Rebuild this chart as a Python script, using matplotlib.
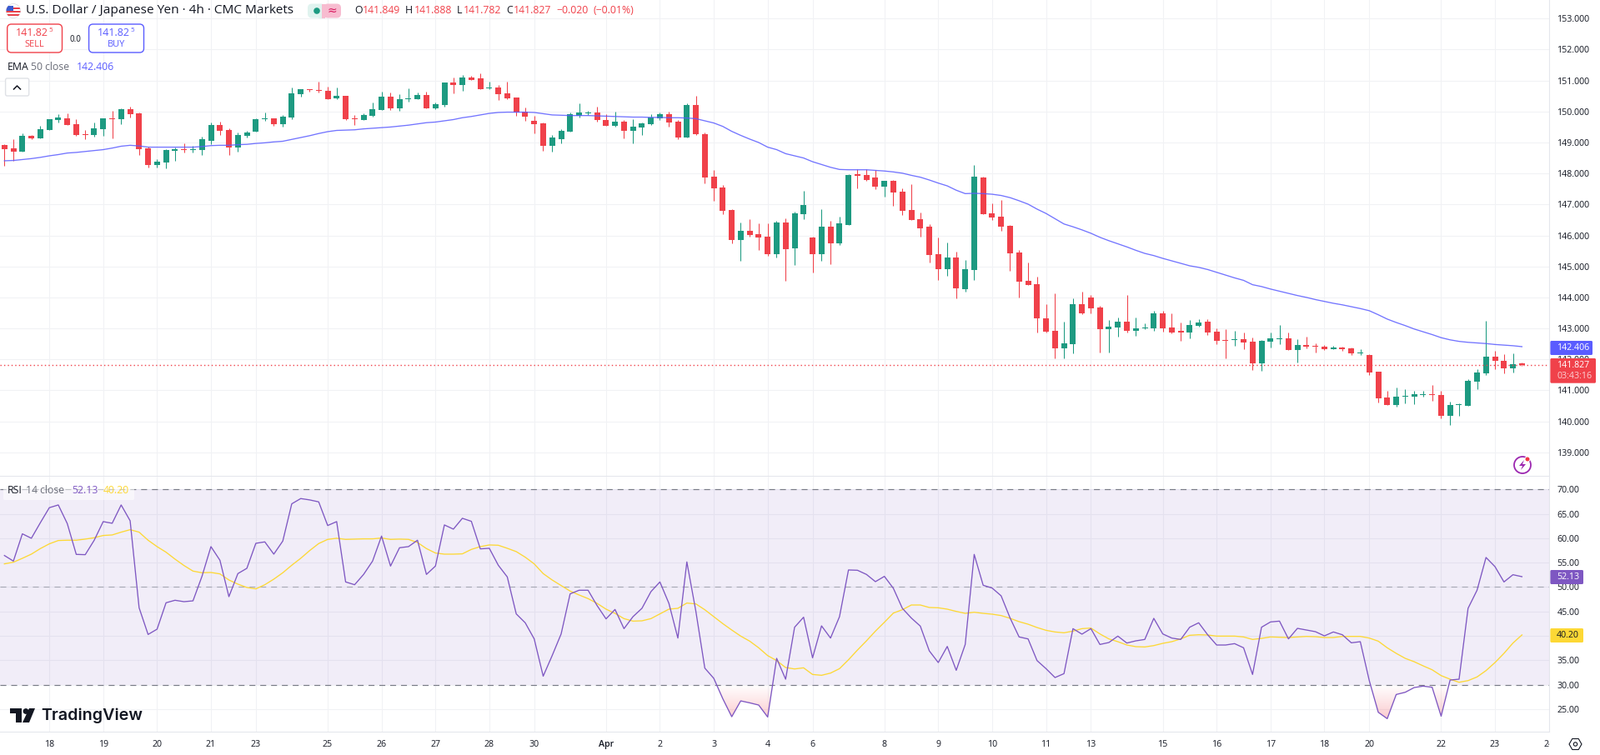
import numpy as np
import matplotlib
matplotlib.use("Agg")
import matplotlib.pyplot as plt
from matplotlib.patches import FancyBboxPatch, Rectangle, Circle, Polygon
from matplotlib.path import Path
from matplotlib.transforms import Bbox

plt.rcParams["font.family"] = ["Open Sans", "DejaVu Sans"]

opens = [148.92,148.81,148.70,149.21,149.13,149.40,149.72,149.78,149.59,149.27,149.24,149.43,149.78,149.75,150.07,149.94,148.81,148.27,148.35,148.73,
148.78,148.76,148.76,149.05,149.56,149.40,148.84,149.21,149.35,149.75,149.78,149.59,149.80,150.56,150.72,150.69,150.66,150.42,150.50,149.78,
149.72,149.86,150.05,150.48,150.10,150.40,150.40,150.53,150.10,150.21,150.93,150.85,151.09,151.07,150.75,150.77,150.58,150.45,149.99,149.70,
149.62,148.89,149.11,149.35,149.86,149.94,149.97,149.72,149.54,149.67,149.37,149.48,149.59,149.78,149.91,149.67,149.16,150.21,149.27,147.90,
147.55,146.82,145.85,146.15,146.04,145.96,145.40,146.42,145.58,146.69,145.93,145.40,146.28,145.75,146.34,147.98,147.95,147.87,147.58,147.77,
147.41,146.82,146.53,146.29,145.40,144.91,145.29,144.27,144.89,147.87,146.71,146.61,146.31,145.45,144.54,144.43,143.32,142.92,142.36,142.49,
143.78,144.00,143.67,142.98,143.03,143.22,142.92,143.00,143.00,143.49,143.03,142.91,142.86,143.07,143.21,142.89,142.62,142.62,142.64,142.56,
141.87,142.56,142.64,142.67,142.30,142.46,142.43,142.40,142.32,142.38,142.35,142.19,142.14,141.60,140.77,140.53,140.80,140.80,140.85,140.88,
140.85,140.18,140.52,140.50,141.28,141.55,142.08,141.95,141.71,141.85]
highs = [148.94,149.11,149.29,149.23,149.54,149.75,149.91,149.94,149.75,149.40,149.64,149.78,150.02,150.10,150.15,149.97,148.86,148.46,148.78,148.84,
148.97,148.89,149.19,149.64,149.67,149.46,149.32,149.37,149.78,149.97,149.78,149.89,150.77,150.72,150.72,150.96,150.80,150.77,150.50,149.89,
149.94,150.29,150.64,150.61,150.56,150.75,150.61,150.64,150.29,150.93,151.09,151.18,151.15,151.23,150.96,150.85,150.96,150.45,150.13,149.86,
149.64,149.24,149.43,149.97,150.26,150.02,150.15,149.91,149.99,149.72,149.75,149.64,149.91,149.97,149.99,149.72,150.26,150.50,149.32,148.11,
147.63,146.85,146.42,146.53,146.39,146.39,146.47,146.55,146.77,147.44,145.96,146.85,146.47,146.61,147.98,148.14,148.14,148.12,147.77,147.79,
147.52,147.66,146.74,146.37,145.94,145.77,145.48,145.21,148.28,147.90,147.04,147.15,146.34,145.53,145.13,144.67,143.78,144.13,143.22,143.97,
144.19,144.08,143.73,143.27,143.35,144.08,143.35,143.16,143.57,143.57,143.49,143.18,143.26,143.29,143.29,142.99,142.97,142.91,142.86,142.70,
142.62,142.86,143.10,142.86,142.64,142.72,142.51,142.46,142.43,142.40,142.38,142.32,142.16,141.60,140.99,141.09,141.04,140.99,140.99,141.17,
140.99,140.64,140.58,141.36,141.68,143.23,142.27,142.16,142.19,141.90]
lows = [148.25,148.41,148.70,149.11,149.13,149.40,149.64,149.56,149.21,149.11,149.19,149.21,149.13,149.59,149.80,148.60,148.19,148.19,148.16,148.41,
148.68,148.68,148.60,148.94,149.24,148.60,148.70,149.16,149.35,149.70,149.54,149.51,149.75,150.48,150.64,150.61,150.40,150.40,149.72,149.56,
149.72,149.83,150.05,150.05,150.02,150.32,150.40,150.10,150.07,150.15,150.58,150.66,151.01,150.72,150.72,150.37,150.40,149.86,149.70,149.29,
148.73,148.70,148.97,149.35,149.80,149.89,149.67,149.54,149.51,149.13,148.97,149.24,149.56,149.72,149.51,149.11,149.16,149.24,147.68,147.12,
146.69,145.75,145.18,145.96,145.53,145.34,145.29,144.54,145.05,146.53,144.80,145.18,145.07,145.69,146.34,147.52,147.77,147.50,147.25,146.96,
146.66,146.50,145.96,145.13,144.56,144.70,143.97,144.19,144.56,146.69,146.50,146.15,144.86,144.00,144.40,142.87,142.87,142.03,142.03,142.20,
143.46,143.49,142.22,142.22,142.73,142.87,142.76,142.98,142.92,142.89,142.84,142.59,142.67,143.05,142.78,142.48,142.03,142.43,142.32,141.65,
141.63,142.38,142.48,142.30,141.90,142.35,142.22,142.30,142.32,142.27,142.14,142.14,141.49,140.61,140.53,140.48,140.58,140.56,140.80,140.66,
140.10,139.89,140.18,140.50,141.04,141.49,141.68,141.55,141.57,141.78]
closes = [148.78,148.70,149.21,149.13,149.43,149.75,149.80,149.56,149.24,149.24,149.46,149.78,149.76,150.07,149.91,148.78,148.27,148.38,148.76,148.78,
148.76,148.78,149.11,149.56,149.37,148.84,149.24,149.32,149.75,149.78,149.59,149.83,150.58,150.72,150.69,150.66,150.40,150.50,149.75,149.75,
149.89,150.07,150.48,150.10,150.40,150.42,150.53,150.10,150.23,150.93,150.85,151.09,151.01,150.72,150.77,150.56,150.42,149.97,149.83,149.59,
148.89,149.16,149.37,149.91,149.97,149.97,149.72,149.54,149.67,149.37,149.51,149.62,149.80,149.91,149.64,149.16,150.21,149.27,147.87,147.52,
146.79,145.85,146.15,146.01,145.93,145.40,146.42,145.56,146.71,146.98,145.40,146.28,145.75,146.39,147.95,147.93,147.79,147.58,147.77,147.39,
146.80,146.50,146.23,145.37,144.91,145.29,144.29,144.91,147.90,146.69,146.58,146.29,145.42,144.51,144.40,143.32,142.89,142.36,142.52,143.78,
143.49,143.65,142.98,143.06,143.22,142.92,143.00,143.03,143.49,143.00,142.87,142.86,143.10,143.18,142.86,142.59,142.59,142.64,142.54,141.87,
142.59,142.67,142.67,142.30,142.46,142.40,142.40,142.32,142.38,142.32,142.19,142.22,141.57,140.74,140.53,140.80,140.82,140.88,140.88,140.85,
140.18,140.53,140.55,141.31,141.57,142.08,141.95,141.71,141.84,141.83]
ema50 = [148.41,148.42,148.45,148.48,148.52,148.57,148.61,148.66,148.68,148.71,148.74,148.77,148.82,148.88,148.91,148.89,148.85,148.85,148.85,148.85,
148.85,148.85,148.87,148.90,148.91,148.91,148.93,148.94,148.97,148.99,149.02,149.04,149.10,149.16,149.22,149.29,149.35,149.39,149.40,149.41,
149.44,149.46,149.48,149.50,149.53,149.56,149.60,149.64,149.66,149.70,149.74,149.80,149.84,149.89,149.94,149.97,149.98,149.98,149.98,149.97,
149.93,149.89,149.88,149.87,149.87,149.87,149.86,149.85,149.84,149.83,149.82,149.82,149.81,149.81,149.80,149.80,149.79,149.77,149.70,149.63,
149.52,149.36,149.23,149.11,149.00,148.85,148.77,148.64,148.57,148.50,148.38,148.29,148.20,148.13,148.12,148.12,148.12,148.10,148.08,148.05,
148.01,147.94,147.88,147.79,147.69,147.60,147.46,147.35,147.36,147.35,147.33,147.29,147.22,147.12,147.01,146.85,146.71,146.54,146.37,146.28,
146.18,146.07,145.94,145.83,145.73,145.63,145.52,145.42,145.35,145.26,145.18,145.10,145.02,144.97,144.90,144.81,144.72,144.63,144.55,144.41,
144.35,144.27,144.20,144.13,144.06,144.00,143.93,143.87,143.81,143.76,143.70,143.64,143.57,143.44,143.30,143.19,143.09,142.98,142.89,142.80,
142.70,142.63,142.58,142.55,142.53,142.51,142.48,142.46,142.44,142.41]
rsi14 = [56.46,55.32,60.90,59.99,63.17,66.25,66.81,63.00,56.69,56.63,59.59,63.40,63.06,66.81,63.57,45.76,40.30,41.38,46.79,47.30,
47.01,47.18,52.19,58.28,55.49,48.04,52.76,53.84,58.96,59.25,56.74,59.42,67.04,68.12,67.84,67.44,62.60,63.40,51.05,50.48,
52.59,55.32,60.44,54.30,58.05,58.28,59.59,52.59,54.30,62.72,61.86,64.08,63.46,57.82,57.94,54.47,52.08,44.51,42.69,39.39,
31.76,35.97,40.41,48.61,49.35,49.35,46.22,43.49,45.42,41.49,43.94,45.65,49.06,51.05,46.67,39.56,55.15,45.08,33.41,31.31,
27.16,23.46,26.70,26.30,25.85,23.40,35.41,31.14,41.78,43.83,35.52,42.06,39.56,43.94,53.50,53.44,52.59,51.11,52.19,49.74,
45.65,43.66,42.01,36.94,34.55,37.85,32.96,38.25,56.69,50.37,49.80,48.21,43.66,39.79,39.39,34.95,33.30,31.48,32.28,41.49,
40.36,41.49,38.25,38.65,39.96,38.54,38.99,39.28,43.60,40.41,39.56,39.28,41.78,42.69,40.24,38.14,38.14,38.42,37.57,32.11,
41.78,42.86,43.03,39.39,41.55,41.21,40.87,40.01,40.81,40.24,38.59,38.82,30.85,24.37,23.06,28.01,28.46,29.43,29.72,29.49,
23.57,30.97,31.14,45.65,49.35,56.06,54.18,51.05,52.53,52.13]
rsi_ma = [54.75,55.09,55.89,56.74,57.88,58.85,59.53,59.59,59.59,59.82,60.10,60.56,60.67,61.24,61.75,61.24,59.59,58.28,57.14,55.72,
54.41,53.27,52.93,52.99,52.70,51.45,50.60,49.92,49.63,50.48,51.62,52.93,54.47,55.89,57.48,58.91,59.76,59.99,59.76,59.82,
59.87,59.87,60.04,59.76,59.82,59.76,59.13,57.88,56.97,56.74,56.74,56.80,57.71,58.28,58.62,58.56,57.94,57.26,56.12,54.75,
52.76,51.45,50.31,49.18,48.38,47.64,46.67,45.48,44.62,43.54,43.03,43.09,43.54,44.51,45.48,45.65,46.73,46.56,45.36,43.94,
42.52,41.21,39.96,38.93,37.57,35.97,34.95,33.53,33.24,33.47,32.11,31.94,32.39,33.30,35.12,37.11,38.99,40.98,42.80,44.68,
45.36,46.33,46.33,45.82,45.76,45.48,45.02,44.62,44.85,44.62,44.45,44.17,43.60,42.92,42.40,41.72,41.15,40.81,40.64,40.98,
41.49,41.61,40.41,39.39,38.82,38.14,37.80,37.74,38.02,38.48,38.82,39.39,40.13,40.24,40.19,39.96,39.96,39.96,39.79,39.28,
39.50,39.79,39.73,39.67,39.79,39.90,39.84,39.67,39.67,39.90,39.90,39.90,39.56,38.93,37.57,36.43,35.41,34.72,33.87,33.07,
31.88,31.14,30.51,30.85,31.60,32.90,34.55,36.43,38.54,40.20]
date_ticks = [5,11,17,23,28,36,42,48,54,59,67,73,79,85,90,98,104,110,116,121,129,135,141,147,152,160,166,172]
date_labels = ["18","19","20","21","23","25","26","27","28","30","Apr","2","3","4","6","8","9","10","11","13","15","16","17","18","20","22","23","24"]
price_ticks = list(range(139, 154))
rsi_ticks = [25,30,35,40,45,50,55,60,65,70]
last_price = 141.827
last_ema = 142.406
last_rsi = 52.13
last_ma = 40.20

GREEN, RED, BLUE, PURPLE, YELLOW = "#1d9a81", "#f0414a", "#5a5cff", "#7E57C2", "#FDD835"
GRID, DARK, GRAY, BORDER = "#f1f2f5", "#131722", "#6a6d78", "#e4e6ec"
AX = 7.7
W, H = 1919, 906
PANE_R = 1858
fig = plt.figure(figsize=(W/100, H/100), dpi=100, facecolor="white")
ax = fig.add_axes([0, 1-571/H, PANE_R/W, 571/H])
rx = fig.add_axes([0, 1-878/H, PANE_R/W, (878-572)/H])
o, h, l, c = map(np.array, (opens, highs, lows, closes))
x = np.arange(len(o))
cols = [GREEN if cc >= oo else RED for oo, cc in zip(o, c)]

ax.vlines(x, l, h, colors=cols, linewidth=0.75, zorder=3)
ax.bar(x, np.maximum(np.abs(c-o), 0.03), bottom=np.minimum(o, c), width=0.65, color=cols, linewidth=0, zorder=4)
ax.plot(x, ema50, color=BLUE, lw=0.95, alpha=0.85, zorder=5)
ax.axhline(last_price, color=RED, lw=1.0, ls=(0, (1, 2.2)), zorder=6)
ax.set_ylim(138.24, 153.6)
ax.set_yticks(price_ticks)
ax.set_yticklabels([f"{v:.3f}" for v in price_ticks])

rx.axhspan(30, 70, color=PURPLE, alpha=0.105, lw=0, zorder=1)
for lv, al in ((70, 1), (50, 0.55), (30, 1)):
    rx.axhline(lv, color="#787b86", lw=0.85, alpha=al, ls=(0, (6, 5)), zorder=2)
ra = np.array(rsi14)
poly = rx.fill_between(x, ra, 30, where=ra < 30, interpolate=True, facecolor="none", linewidth=0)
clip = Path.make_compound_path(*poly.get_paths())
grad = np.zeros((64, 2, 4))
grad[..., :3] = matplotlib.colors.to_rgb("#f23645")
grad[..., 3] = np.linspace(0, 0.26, 64)[:, None]
img = rx.imshow(grad, extent=(x[0], x[-1], 23, 30), aspect="auto", zorder=2, interpolation="bilinear")
img.set_clip_path(clip, rx.transData)
rx.plot(x, ra, color=PURPLE, lw=0.95, zorder=4)
rx.plot(x, rsi_ma, color=YELLOW, lw=0.95, zorder=3)
rx.set_ylim(20.4, 72.6)
rx.set_yticks(rsi_ticks)
rx.set_yticklabels([f"{v:.2f}" for v in rsi_ticks])

for a in (ax, rx):
    a.set_xlim(-0.492, 172.03)
    a.set_xticks(date_ticks)
    a.yaxis.tick_right()
    a.grid(True, color=GRID, lw=0.75, zorder=0)
    a.set_axisbelow(True)
    a.tick_params(axis="y", length=0, pad=6.8, labelsize=AX, labelcolor=DARK)
    a.tick_params(axis="x", length=0)
    for s in ("top", "left"):
        a.spines[s].set_visible(False)
    for s in ("right", "bottom"):
        a.spines[s].set_color(BORDER)
        a.spines[s].set_linewidth(0.75)
ax.tick_params(axis="x", labelbottom=False)
rx.set_xticklabels(date_labels, fontsize=AX, color=DARK)
rx.tick_params(axis="x", pad=7.5)
rx.get_xticklabels()[date_labels.index("Apr")].set_fontweight("semibold")
lab24 = rx.get_xticklabels()[-1]
lab24.set_clip_on(True)
lab24.set_clip_box(Bbox.from_extents(0, 0, PANE_R, H))

# overlay in pixel space for header, legends and price tags
ov = fig.add_axes([0, 0, 1, 1], facecolor="none", zorder=10)
ov.set_xlim(0, W); ov.set_ylim(H, 0); ov.axis("off")

def T(px, py, s, color=DARK, size=AX, ha="left", va="center", **kw):
    return ov.text(px, py, s, color=color, fontsize=size, ha=ha, va=va, **kw)

def box(x0, y0, x1, y1, fc="white", ec="none", lw=1, r=3, alpha=None, z=1):
    p = FancyBboxPatch((x0+r, y0+r), x1-x0-2*r, y1-y0-2*r, boxstyle=f"round,pad={r}", fc=fc, ec=ec, lw=lw, alpha=alpha, zorder=z)
    ov.add_patch(p)

# header
flag = Circle((16, 13), 8.5, fc="white", ec="#d9d9de", lw=0.5)
ov.add_patch(flag)
for yy in (9.5, 13.5, 17.5):
    ov.add_patch(Rectangle((7, yy-1), 18, 2, fc="#e8414a", lw=0, clip_path=flag))
ov.add_patch(Rectangle((7, 7), 9, 6, fc="#3a5bd0", lw=0, clip_path=flag))
T(31, 13, "U.S. Dollar / Japanese Yen · 4h · CMC Markets", size=11.1)
box(369, 4.5, 390, 21.5, fc="#e0f3ef", r=5)
box(388, 4.5, 409, 21.5, fc="#f7bcd0", r=5)
ov.add_patch(Rectangle((386, 4.5), 4, 17, fc="#f7bcd0", lw=0))
ov.add_patch(Rectangle((382, 4.5), 4, 17, fc="#e0f3ef", lw=0))
ov.add_patch(Circle((380, 13), 3.8, fc=GREEN, lw=0))
T(398, 13, "≈", color="#d81b60", size=10, ha="center", family="DejaVu Sans")
hd = [(425,"O",DARK),(435,"141.849",RED),(486,"H",DARK),(496.5,"141.888",RED),(547.5,"L",DARK),(556,"141.782",RED),
      (607,"C",DARK),(616,"141.827",RED),(667,"−0.020",RED),(712,"(−0.01%)",RED)]
for px, s, col in hd:
    T(px, 13, s, color=col, size=8.8)

# buy / sell
box(8.7, 29, 74.5, 63, ec=RED, lw=1.0, r=5)
box(106.6, 29, 172.5, 63, ec=BLUE, lw=1.0, r=5)
T(19, 39.5, "141.82", color=RED, size=9, fontweight="medium")
T(58.5, 37, "5", color=RED, size=5.8)
T(41.5, 54, "SELL", color=RED, size=7.9, ha="center")
T(117, 39.5, "141.82", color=BLUE, size=9, fontweight="medium")
T(156.5, 37, "5", color=BLUE, size=5.8)
T(139.5, 54, "BUY", color=BLUE, size=7.9, ha="center")
T(90.5, 47, "0.0", size=7, ha="center")

T(9, 80, "EMA", size=8.8)
T(37, 80, "50 close", color=GRAY, size=8.8)
T(92, 80, f"{last_ema:.3f}", color=BLUE, size=8.8)
box(6.6, 94, 34.7, 115, ec="#dfe1e6", lw=1.0, r=2)
ov.plot([16.5, 20.5, 24.5], [107, 103, 107], color=DARK, lw=1.1)

# RSI legend
box(4, 580, 161, 600, fc="white", alpha=0.55, r=2)
T(9, 589, "RSI", size=8.8)
T(31, 589, "14 close", color=GRAY, size=8.8)
T(86, 589, f"{last_rsi:.2f}", color=PURPLE, size=8.8)
T(124, 589, f"{last_ma:.2f}", color=YELLOW, size=8.8)

# price tags
box(1859.4, 409, 1910, 426, fc=BLUE, r=1.5)
T(1867, 417.5, f"{last_ema:.3f}", color="white", fontweight="medium")
box(1859.4, 430, 1914, 459.7, fc=RED, r=1.5)
T(1867, 438.5, f"{last_price:.3f}", color="white", fontweight="medium")
T(1867, 452, "03:43:16", color="#fbd0d3")
box(1859.4, 684, 1899, 701, fc=PURPLE, r=1.5)
T(1867, 692.5, f"{last_rsi:.2f}", color="white", fontweight="medium")
box(1859.4, 754, 1899, 771, fc=YELLOW, r=1.5)
T(1867, 762.5, f"{last_ma:.2f}", color=DARK)

# TradingView mark
ov.add_patch(Polygon([(12,850),(26,850),(26,867),(19,867),(19,856),(12,856)], fc=DARK, lw=0))
ov.add_patch(Circle((31, 853.5), 3.4, fc=DARK, lw=0))
ov.add_patch(Polygon([(35,850),(42,850),(35,867),(27,867)], fc=DARK, lw=0))
T(49, 858.5, "TradingView", size=14.2, fontweight="semibold", family="Inter")

# lightning badge
ov.add_patch(Circle((1826, 558), 10, fc="white", ec="#9c27b0", lw=1.3))
ov.add_patch(Polygon([(1828,552),(1822,559),(1826,559),(1824,564),(1830,557),(1826,557)], fc="#9c27b0", lw=0))
ov.add_patch(Circle((1832, 551), 3, fc="#f23645", ec="white", lw=0.7))

# settings icon
ang = np.deg2rad(np.arange(0, 360, 60))
ov.add_patch(Polygon(np.c_[1889.5+7.5*np.cos(ang), 893+7.5*np.sin(ang)], fc="none", ec=DARK, lw=0.8))
ov.add_patch(Circle((1889.5, 893), 2.2, fc="none", ec=DARK, lw=0.8))

fig.savefig("out.png", dpi=100, facecolor="white")
